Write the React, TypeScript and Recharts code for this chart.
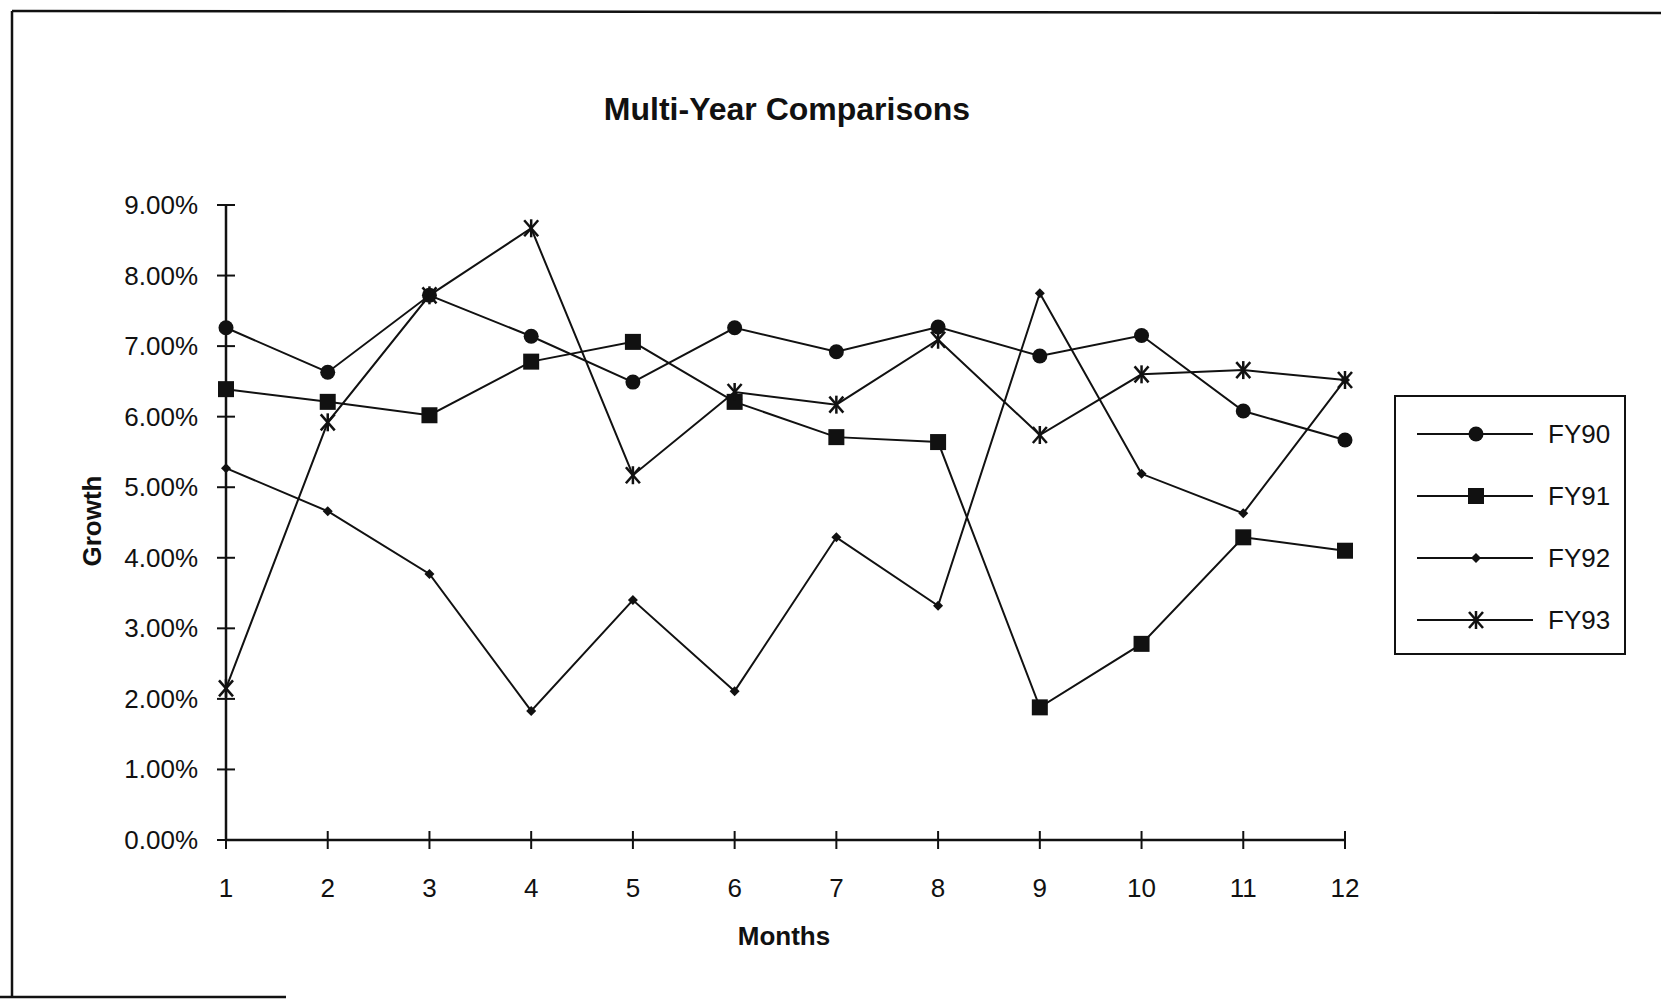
import React from 'react';
import { LineChart, Line, XAxis, YAxis, Legend } from 'recharts';

const months = [1, 2, 3, 4, 5, 6, 7, 8, 9, 10, 11, 12];
const fy90 = [7.26, 6.63, 7.72, 7.14, 6.49, 7.26, 6.92, 7.27, 6.86, 7.15, 6.08, 5.67];
const fy91 = [6.39, 6.21, 6.02, 6.78, 7.06, 6.21, 5.71, 5.64, 1.88, 2.78, 4.29, 4.1];
const fy92 = [5.27, 4.66, 3.77, 1.83, 3.4, 2.11, 4.29, 3.32, 7.75, 5.19, 4.63, 6.52];
const fy93 = [2.15, 5.92, 7.72, 8.67, 5.17, 6.35, 6.17, 7.09, 5.74, 6.6, 6.66, 6.52];
const yTicks = [0, 1, 2, 3, 4, 5, 6, 7, 8, 9];

const data = months.map((m, i) => ({
  month: m,
  FY90: fy90[i],
  FY91: fy91[i],
  FY92: fy92[i],
  FY93: fy93[i],
}));

const INK = '#111';
const FONT = '"Liberation Sans", Arial, sans-serif';

type Shape = 'circle' | 'square' | 'diamond' | 'star';
const shapes: Record<string, Shape> = { FY90: 'circle', FY91: 'square', FY92: 'diamond', FY93: 'star' };

const Marker = ({ shape, cx, cy }: { shape: Shape; cx: number; cy: number }) => {
  if (shape === 'circle') return <circle cx={cx} cy={cy} r={7.5} fill={INK} />;
  if (shape === 'square') return <rect x={cx - 8} y={cy - 8} width={16} height={16} fill={INK} />;
  if (shape === 'diamond')
    return <polygon points={`${cx},${cy - 5} ${cx + 5},${cy} ${cx},${cy + 5} ${cx - 5},${cy}`} fill={INK} />;
  return (
    <g stroke={INK} strokeWidth={2.5}>
      <line x1={cx - 7} y1={cy - 8} x2={cx + 7} y2={cy + 8} />
      <line x1={cx + 7} y1={cy - 8} x2={cx - 7} y2={cy + 8} />
      <line x1={cx} y1={cy - 9} x2={cx} y2={cy + 9} />
    </g>
  );
};

const dotFor = (shape: Shape) => (p: any) =>
  <Marker key={`${shape}-${p.index}`} shape={shape} cx={p.cx} cy={p.cy} />;

const YTick = ({ x, y, payload }: any) => (
  <g>
    <line x1={x - 9} x2={x + 9} y1={y} y2={y} stroke={INK} strokeWidth={2} />
    <text x={x - 28} y={y} textAnchor="end" dominantBaseline="central" fontSize={26} fill={INK} fontFamily={FONT}>
      {payload.value.toFixed(2)}%
    </text>
  </g>
);

const XTick = ({ x, y, payload }: any) => (
  <g>
    <line x1={x} x2={x} y1={y - 9} y2={y + 9} stroke={INK} strokeWidth={2} />
    <text x={x} y={y + 48} textAnchor="middle" dominantBaseline="central" fontSize={26} fill={INK} fontFamily={FONT}>
      {payload.value}
    </text>
  </g>
);

const LegendBox = ({ payload }: any) => (
  <div style={{ width: 232, height: 260, border: `2px solid ${INK}`, boxSizing: 'border-box', background: '#fff' }}>
    <svg width={228} height={256}>
      {(payload || []).map((e: any, i: number) => {
        const y = 37 + i * 62;
        return (
          <g key={e.value}>
            <line x1={21} x2={137} y1={y} y2={y} stroke={INK} strokeWidth={2} />
            <Marker shape={shapes[e.dataKey]} cx={80} cy={y} />
            <text x={152} y={y} dominantBaseline="central" fontSize={26} fill={INK} fontFamily={FONT}>
              {e.value}
            </text>
          </g>
        );
      })}
    </svg>
  </div>
);

export default function App() {
  return (
    <div style={{ position: 'absolute', left: 0, top: 0, width: 1661, height: 1001, background: '#fff', overflow: 'hidden' }}>
      <LineChart width={1661} height={1001} data={data} margin={{ top: 205, right: 316, bottom: 41, left: 126 }}>
        <XAxis
          dataKey="month"
          type="number"
          domain={[1, 12]}
          ticks={months}
          height={120}
          tickSize={0}
          tickMargin={0}
          tickLine={false}
          axisLine={{ stroke: INK, strokeWidth: 2.5 }}
          tick={<XTick />}
          interval={0}
        />
        <YAxis
          domain={[0, 9]}
          ticks={yTicks}
          width={100}
          tickSize={0}
          tickMargin={0}
          tickLine={false}
          axisLine={{ stroke: INK, strokeWidth: 2.5 }}
          tick={<YTick />}
          interval={0}
        />
        <Legend
          layout="vertical"
          align="center"
          verticalAlign="middle"
          content={<LegendBox />}
          wrapperStyle={{ left: 1394, top: 395, right: 'auto', bottom: 'auto', width: 232, height: 260 }}
        />
        {(['FY90', 'FY91', 'FY92', 'FY93'] as const).map((k) => (
          <Line
            key={k}
            type="linear"
            dataKey={k}
            name={k}
            stroke={INK}
            strokeWidth={2}
            dot={dotFor(shapes[k])}
            activeDot={false}
            isAnimationActive={false}
          />
        ))}
      </LineChart>
      <svg width={1661} height={1001} style={{ position: 'absolute', left: 0, top: 0, pointerEvents: 'none' }}>
        <line x1={12} y1={11} x2={1661} y2={13} stroke={INK} strokeWidth={2.5} />
        <line x1={12} y1={11} x2={12} y2={997} stroke={INK} strokeWidth={2.5} />
        <line x1={0} y1={997} x2={286} y2={997} stroke={INK} strokeWidth={2.5} />
        <text x={787} y={109} textAnchor="middle" dominantBaseline="central" fontSize={32} fontWeight="bold" fill={INK} fontFamily={FONT}>
          Multi-Year Comparisons
        </text>
        <text
          x={92}
          y={521}
          textAnchor="middle"
          dominantBaseline="central"
          fontSize={26}
          fontWeight="bold"
          fill={INK}
          fontFamily={FONT}
          transform="rotate(-90 92 521)"
        >
          Growth
        </text>
        <text x={784} y={936} textAnchor="middle" dominantBaseline="central" fontSize={26} fontWeight="bold" fill={INK} fontFamily={FONT}>
          Months
        </text>
      </svg>
    </div>
  );
}
